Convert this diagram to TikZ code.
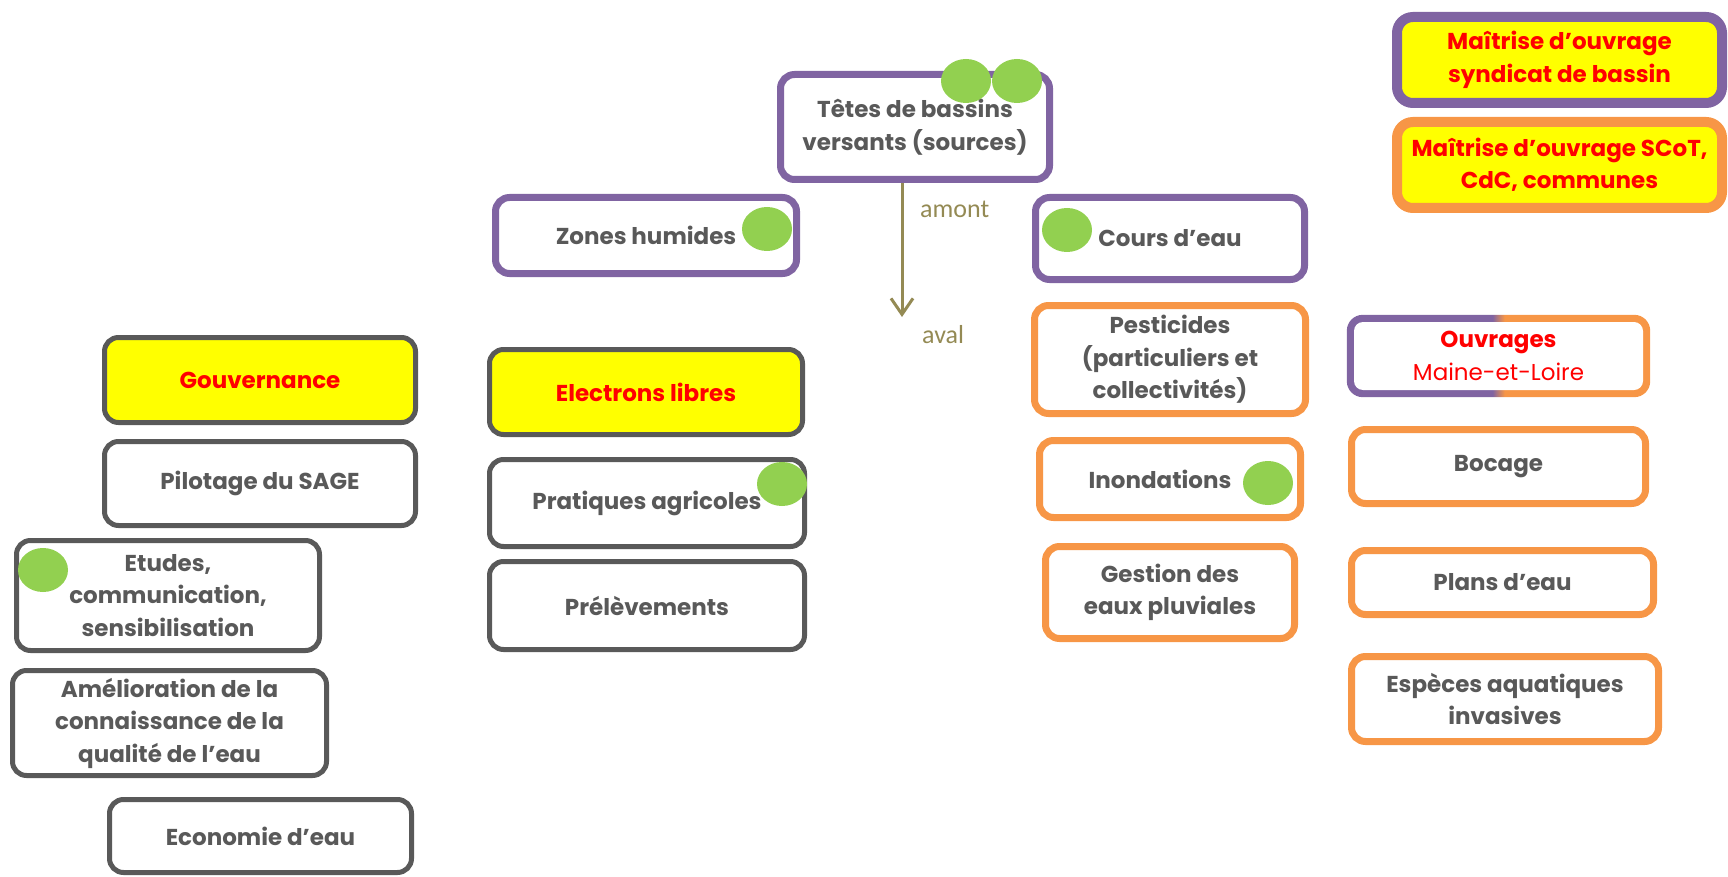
\documentclass[tikz,border=0pt]{standalone}
\usepackage{fontspec}
\setmainfont{Poppins}
\newfontfamily\carlito{Carlito}
\usetikzlibrary{arrows.meta,shapes.geometric,backgrounds}
\definecolor{purp}{HTML}{8064A2}
\definecolor{orng}{HTML}{F79646}
\definecolor{grayb}{HTML}{595959}
\definecolor{txtgray}{HTML}{595959}
\definecolor{redt}{HTML}{FF0000}
\definecolor{yel}{HTML}{FFFF00}
\definecolor{grn}{HTML}{92D050}
\definecolor{olivec}{HTML}{948A54}
\pgfdeclarehorizontalshading{ouvshade}{100bp}{color(0bp)=(purp); color(49bp)=(purp); color(51bp)=(orng); color(100bp)=(orng)}
\tikzset{
  box/.style={rectangle, rounded corners=14pt, inner sep=0pt, align=center, text=txtgray,
    font=\fontsize{23}{32.5}\selectfont\bfseries},
  pbox/.style={box, draw=purp, line width=7pt, fill=white},
  obox/.style={box, draw=orng, line width=7pt, fill=white},
  gbox/.style={box, draw=grayb, line width=5pt, fill=white},
  ybox/.style={fill=yel, text=redt},
  mbox/.style={box, line width=10pt, rounded corners=16pt, fill=yel, text=redt},
  dot/.style={ellipse, fill=grn, minimum width=50pt, minimum height=44pt, inner sep=0pt},
  arr/.style={draw=olivec, line width=3pt, -{Straight Barb[length=16pt, width=22pt]}},
  lbl/.style={anchor=west, text=olivec, inner sep=0pt, font=\carlito\fontsize{26}{30}\selectfont}
}
\begin{document}
\begin{tikzpicture}[x=1pt, y=-1pt]
\useasboundingbox (0,0) rectangle (1728,877);

% purple boxes
\node[pbox, minimum width=269pt, minimum height=105pt] (tetes) at (915,127) {Têtes de bassins\\versants (sources)};
\node[pbox, minimum width=301pt, minimum height=76pt] (zones) at (646,235.5) {Zones humides};
\node[pbox, minimum width=269pt, minimum height=82pt] (cours) at (1170,238.5) {Cours d’eau};

% orange boxes
\node[obox, minimum width=271pt, minimum height=108pt] (pest) at (1170,359.5) {Pesticides\\(particuliers et\\collectivités)};
\node[obox, minimum width=261pt, minimum height=77pt] (inond) at (1170,479) {Inondations\hspace{20pt}};
\node[obox, minimum width=249pt, minimum height=92pt] (gest) at (1170,592.5) {Gestion des\\eaux pluviales};
\node[obox, minimum width=294pt, minimum height=74pt] (boc) at (1498.5,466.5) {Bocage};
\node[obox, minimum width=302pt, minimum height=64pt] (plans) at (1502.5,582.5) {Plans d’eau};
\node[obox, minimum width=307pt, minimum height=85pt] (esp) at (1505,699) {Espèces aquatiques\\invasives};

% gray boxes
\node[gbox, ybox, minimum width=311pt, minimum height=85pt] (gouv) at (260,380) {Gouvernance};
\node[gbox, minimum width=311pt, minimum height=84pt] (pilot) at (260,483.5) {Pilotage du SAGE};
\node[gbox, minimum width=303pt, minimum height=110pt] (etud) at (168,595.5) {Etudes,\\communication,\\sensibilisation};
\node[gbox, minimum width=314pt, minimum height=105pt] (amel) at (169.5,723) {Amélioration de la\\connaissance de la\\qualité de l’eau};
\node[gbox, minimum width=302pt, minimum height=73pt] (econ) at (260.5,836) {Economie d’eau};
\node[gbox, ybox, minimum width=313pt, minimum height=85pt] (elec) at (646,392) {Electrons libres};
\node[gbox, minimum width=315pt, minimum height=87pt] (prat) at (647,503) {Pratiques agricoles};
\node[gbox, minimum width=315pt, minimum height=88pt] (prel) at (647,605.5) {Prélèvements};

% legend boxes
\node[mbox, draw=purp, minimum width=325pt, minimum height=86pt] (m1) at (1559.5,60) {Maîtrise d’ouvrage\\syndicat de bassin};
\node[mbox, draw=orng, minimum width=325pt, minimum height=86pt] (m2) at (1559.5,165) {Maîtrise d’ouvrage SCoT,\\CdC, communes};

% Ouvrages box with two-colour border
\node[box, fill=white, rounded corners=9pt, minimum width=289pt, minimum height=68pt, text=redt] (ouv) at (1498.5,356) {Ouvrages\\{\mdseries Maine-et-Loire}};
\begin{scope}[on background layer]
\shade[shading=ouvshade, rounded corners=16pt] ([xshift=-7pt,yshift=7pt]ouv.north west) rectangle ([xshift=7pt,yshift=-7pt]ouv.south east);
\end{scope}

% green dots
\node[dot] (d1) at (966,81) {};
\node[dot] (d2) at (1017,81) {};
\node[dot] (d3) at (767,229) {};
\node[dot] (d4) at (1067,230) {};
\node[dot] (d5) at (782,484) {};
\node[dot] (d6) at (1268,483) {};
\node[dot] (d7) at (43,570) {};

% amont / aval arrow
\coordinate (arrend) at (902,317);
\draw[arr] ([xshift=-13pt]tetes.south) -- (arrend);
\node[lbl] (amont) at (920,209) {amont};
\node[lbl] (aval) at (922,335) {aval};
\end{tikzpicture}
\end{document}
